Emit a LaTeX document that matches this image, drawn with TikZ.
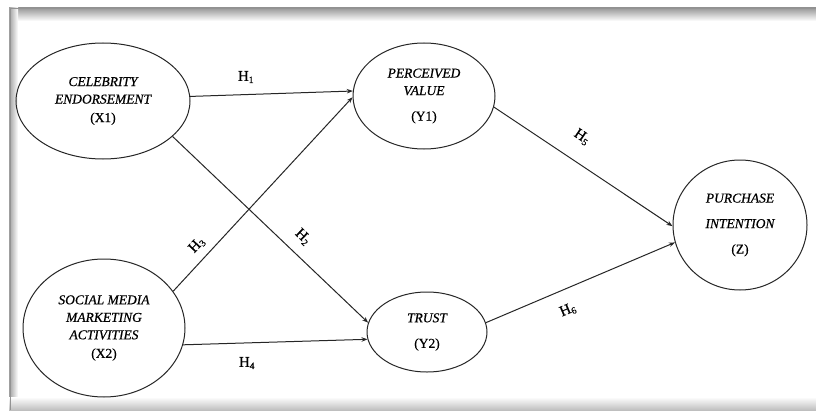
\documentclass[tikz,border=0pt]{standalone}
\usepackage{fontspec}
\setmainfont{Liberation Serif}[FakeBold=0.5]
\usetikzlibrary{shapes.geometric,arrows.meta}
% hypothesis label with a lowered small index
\newcommand{\hyp}[1]{H\textsubscript{\fontsize{9.5}{10}\selectfont #1}}

\begin{document}
\begin{tikzpicture}[x=1pt,y=-1pt,
  latent/.style={ellipse, draw=black!85, line width=1pt, inner sep=0pt,
    align=center, font=\fontsize{13.5}{17.5}\selectfont\itshape},
  hpath/.style={draw=black!85, line width=1pt,
    -{Stealth[length=6pt,width=4.5pt]}},
  hlabel/.style={font=\fontsize{15}{17}\selectfont, inner sep=0pt}]

\useasboundingbox (0,0) rectangle (816,412);
\fill[white] (0,0) rectangle (816,412);

% framed panel with an inner shadow
\shade[top color=gray!80, bottom color=white] (9,8) rectangle (816,21);
\shade[left color=gray!75, right color=white] (9,8) rectangle (18,410);
\shade[top color=white, bottom color=gray!50] (9,397) rectangle (816,410);
\draw[gray!85, line width=1pt] (10,410) -- (10,8.5) -- (816,8.5);

% constructs
\node[latent, minimum width=174pt, minimum height=116pt] (x1) at (103,101)
  {CELEBRITY\\ENDORSEMENT\\[1pt]\upshape (X1)};
\node[latent, minimum width=162pt, minimum height=138pt] (x2) at (104,328)
  {SOCIAL MEDIA\\MARKETING\\ACTIVITIES\\[1pt]\upshape (X2)};
\node[latent, minimum width=142pt, minimum height=106pt] (y1) at (424,96)
  {PERCEIVED\\VALUE\\[8pt]\upshape (Y1)};
\node[latent, minimum width=120pt, minimum height=80pt] (y2) at (427,332)
  {TRUST\\[8pt]\upshape (Y2)};
\node[latent, minimum width=134pt, minimum height=130pt] (z) at (740,225)
  {PURCHASE\\[8pt]INTENTION\\[8pt]\upshape (Z)};

% hypothesised paths
\draw[hpath] (x1.3) -- (y1.176);
\draw[hpath] (x1.333) -- (y2.171);
\draw[hpath] (x2.28) -- (y1.181);
\draw[hpath] (x2.348) -- (y2.187);
\draw[hpath] (y1.351) -- (z.181.5);
\draw[hpath] (y2.9) -- (z.195.5);

% path labels
\node[hlabel] (h1) at (246,77) {\hyp{1}};
\node[hlabel, rotate=-44] (h2) at (303,237) {\hyp{2}};
\node[hlabel, rotate=47] (h3) at (197,245) {\hyp{3}};
\node[hlabel] (h4) at (247,363) {\hyp{4}};
\node[hlabel, rotate=-34] (h5) at (582,137) {\hyp{5}};
\node[hlabel, rotate=23] (h6) at (568,310) {\hyp{6}};
\end{tikzpicture}
\end{document}
